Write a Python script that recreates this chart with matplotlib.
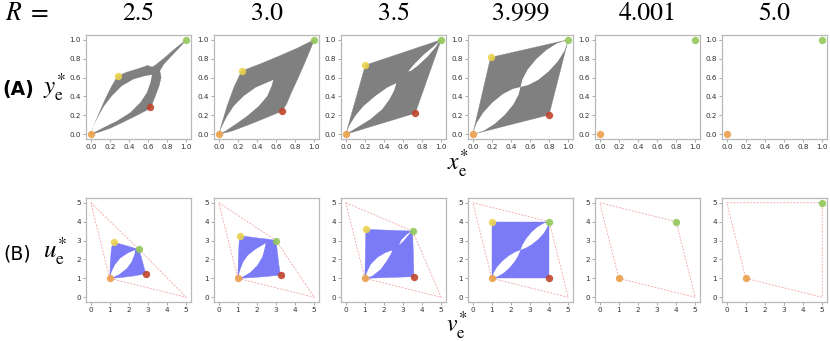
import matplotlib
matplotlib.use("Agg")
import matplotlib.pyplot as plt

plt.rcParams['mathtext.fontset'] = 'stix'

# ---------------- data ----------------
r_labels = ["2.5", "3.0", "3.5", "3.999", "4.001", "5.0"]

# row A: fixed points (x*, y*)
orange_a = (0.0, 0.0)
green_a = (1.0, 1.0)
yellow_a = [(0.28, 0.615), (0.239, 0.668), (0.205, 0.731), (0.187, 0.813), None, None]
red_a = [(0.617, 0.29), (0.66, 0.251), (0.728, 0.223), (0.799, 0.205), None, None]

# row B: fixed points (v*, u*)
orange_b = (1.0, 1.0)
green_b = [(2.53, 2.53), (3.0, 3.0), (3.5, 3.5), (4.0, 4.0), (4.0, 4.0), (5.0, 5.0)]
yellow_b = [(1.23, 2.9), (1.1, 3.26), (1.05, 3.59), (1.0, 4.0), None, None]
red_b = [(2.88, 1.24), (3.28, 1.18), (3.57, 1.09), (4.0, 1.0), None, None]

# corner points of the dashed bounding quadrilateral in row B
quad_top_left = (0.0, 5.0)
quad_bottom_right = (5.0, 0.0)

# row A region outlines (gray) and holes (white)
a25_outer = [(0, 0), (0.046, 0.124), (0.098, 0.247), (0.151, 0.371), (0.221, 0.512),
             (0.281, 0.615), (0.379, 0.657), (0.484, 0.689), (0.596, 0.728),
             (0.642, 0.710), (0.677, 0.731), (0.765, 0.802), (0.870, 0.894),
             (1.0, 1.0), (0.940, 0.929), (0.853, 0.837), (0.765, 0.742),
             (0.723, 0.671), (0.737, 0.601), (0.716, 0.512), (0.677, 0.406),
             (0.642, 0.318), (0.617, 0.272), (0.484, 0.201), (0.344, 0.131),
             (0.204, 0.064), (0.081, 0.021)]
a25_holes = [[(0, 0), (0.028, 0.088), (0.081, 0.194), (0.140, 0.300), (0.221, 0.406),
              (0.326, 0.512), (0.449, 0.583), (0.572, 0.618), (0.642, 0.629),
              (0.625, 0.548), (0.589, 0.442), (0.519, 0.336), (0.414, 0.230),
              (0.274, 0.141), (0.133, 0.071), (0.046, 0.025)]]

a30_outer = [(0, 0), (0.035, 0.124), (0.088, 0.300), (0.158, 0.495), (0.239, 0.668),
             (0.456, 0.753), (0.632, 0.827), (0.825, 0.912), (1.0, 1.0),
             (0.954, 0.883), (0.895, 0.742), (0.825, 0.583), (0.761, 0.442),
             (0.709, 0.318), (0.660, 0.244), (0.491, 0.173), (0.316, 0.102),
             (0.140, 0.035)]
a30_holes = [[(0, 0), (0.035, 0.088), (0.088, 0.194), (0.158, 0.300), (0.263, 0.406),
              (0.386, 0.495), (0.509, 0.548), (0.572, 0.576), (0.554, 0.512),
              (0.509, 0.406), (0.421, 0.300), (0.298, 0.194), (0.175, 0.106),
              (0.070, 0.035)]]

a35_outer = [(0, 0), (0.205, 0.731), (1.0, 1.0), (0.728, 0.223)]
a35_holes = [[(0, 0), (0.035, 0.088), (0.099, 0.194), (0.187, 0.300), (0.311, 0.406),
              (0.435, 0.495), (0.530, 0.541), (0.505, 0.459), (0.459, 0.371),
              (0.382, 0.265), (0.258, 0.159), (0.117, 0.071)],
             [(0.654, 0.664), (0.717, 0.742), (0.823, 0.848), (0.929, 0.936),
              (0.982, 0.986), (0.947, 0.929), (0.859, 0.823), (0.753, 0.724),
              (0.682, 0.671)]]

a4_outer = [(0, 0), (0.187, 0.813), (1.0, 1.0), (0.799, 0.205)]
a4_holes = [[(0, 0), (0.04, 0.12), (0.11, 0.23), (0.205, 0.335), (0.315, 0.425),
             (0.42, 0.48), (0.5, 0.5), (0.48, 0.42), (0.425, 0.315), (0.335, 0.205),
             (0.23, 0.11), (0.12, 0.04)],
            [(0.5, 0.5), (0.52, 0.58), (0.575, 0.685), (0.665, 0.795), (0.77, 0.89),
             (0.88, 0.96), (1.0, 1.0), (0.96, 0.88), (0.89, 0.77), (0.795, 0.665),
             (0.685, 0.575), (0.58, 0.52)]]

# row B region outlines (blue) and holes (white)
b25_outer = [(1, 1), (1.02, 1.86), (1.09, 2.65), (1.23, 2.90), (1.72, 2.77),
             (2.25, 2.61), (2.53, 2.53), (2.67, 2.03), (2.79, 1.59), (2.88, 1.24),
             (2.25, 1.13), (1.54, 1.04)]
b25_holes = [[(1, 1), (1.09, 1.35), (1.26, 1.71), (1.54, 2.06), (1.93, 2.33),
              (2.33, 2.50), (2.28, 2.24), (2.14, 1.88), (1.89, 1.53), (1.49, 1.21),
              (1.14, 1.04)]]

b30_outer = [(1, 1), (1.02, 1.9), (1.06, 2.8), (1.1, 3.26), (1.9, 3.15), (2.6, 3.07),
             (3.0, 3.0), (3.07, 2.4), (3.15, 1.7), (3.22, 1.25), (3.28, 1.18),
             (2.4, 1.09), (1.6, 1.03)]
b30_holes = [[(1, 1), (1.11, 1.42), (1.28, 1.87), (1.53, 2.22), (1.93, 2.54),
              (2.46, 2.86), (2.40, 2.57), (2.28, 2.13), (2.02, 1.69), (1.63, 1.30),
              (1.23, 1.07)]]

b35_outer = [(1, 1), (1.05, 3.59), (3.5, 3.5), (3.54, 2.3), (3.57, 1.09)]
b35_holes = [[(1, 1), (1.10, 1.30), (1.31, 1.74), (1.66, 2.10), (2.09, 2.36),
              (2.44, 2.48), (2.35, 2.27), (2.14, 1.92), (1.83, 1.48), (1.39, 1.13)],
             [(2.79, 2.76), (2.91, 3.03), (3.19, 3.31), (3.43, 3.49),
              (3.31, 3.33), (3.01, 2.96)]]

b4_outer = [(1, 1), (1, 4), (4, 4), (4, 1)]
b4_holes = [[(1, 1), (1.1, 1.3), (1.285, 1.615), (1.57, 1.93), (1.9, 2.2),
             (2.215, 2.385), (2.5, 2.5), (2.385, 2.215), (2.2, 1.9), (1.93, 1.57),
             (1.615, 1.285), (1.3, 1.1)],
            [(2.5, 2.5), (2.615, 2.785), (2.8, 3.1), (3.07, 3.43), (3.385, 3.715),
             (3.7, 3.9), (4.0, 4.0), (3.9, 3.7), (3.715, 3.385), (3.43, 3.07),
             (3.1, 2.8), (2.785, 2.615)]]

a_regions = [(a25_outer, a25_holes), (a30_outer, a30_holes), (a35_outer, a35_holes),
             (a4_outer, a4_holes), None, None]
b_regions = [(b25_outer, b25_holes), (b30_outer, b30_holes), (b35_outer, b35_holes),
             (b4_outer, b4_holes), None, None]

a_ticks = [0.0, 0.2, 0.4, 0.6, 0.8, 1.0]
a_ticklabels = ["0.0", "0.2", "0.4", "0.6", "0.8", "1.0"]
b_ticks = [0, 1, 2, 3, 4, 5]
b_ticklabels = ["0", "1", "2", "3", "4", "5"]

# ---------------- style ----------------
W, H = 830, 341
C_ORANGE = '#eaa04a'
C_YELLOW = '#ecd34e'
C_RED = '#c0432a'
C_GREEN = '#92c75a'
C_GRAY = '#808080'
C_BLUE = '#7b7bf8'
C_DASH = '#f3a8a8'

fig = plt.figure(figsize=(W / 100, H / 100), dpi=100)

lefts = [86, 214, 341, 468, 595, 722]
pw, ph = 105, 104
top_a, top_b = 35, 198


def make_ax(left, top):
    ax = fig.add_axes([left / W, 1 - (top + ph) / H, pw / W, ph / H])
    for s in ax.spines.values():
        s.set_color('#b8b8b8')
        s.set_linewidth(0.9)
    ax.tick_params(labelsize=5.2, length=2, width=0.5, color='#888888',
                   labelcolor='#333333', pad=1.5)
    return ax


def dot(ax, p, c):
    ax.scatter([p[0]], [p[1]], s=28, color=c, zorder=5, linewidths=0, alpha=0.9)


for i in range(6):
    # ----- row A -----
    ax = make_ax(lefts[i], top_a)
    reg = a_regions[i]
    if reg is not None:
        outer, holes = reg
        ax.fill([p[0] for p in outer], [p[1] for p in outer], color=C_GRAY, lw=0.3,
                ec=C_GRAY, zorder=1)
        for hole in holes:
            ax.fill([p[0] for p in hole], [p[1] for p in hole], color='white', lw=0,
                    zorder=2)
    dot(ax, orange_a, C_ORANGE)
    dot(ax, green_a, C_GREEN)
    if yellow_a[i] is not None:
        dot(ax, yellow_a[i], C_YELLOW)
    if red_a[i] is not None:
        dot(ax, red_a[i], C_RED)
    ax.set_xlim(-0.05, 1.05)
    ax.set_ylim(-0.05, 1.05)
    ax.set_xticks(a_ticks)
    ax.set_xticklabels(a_ticklabels)
    ax.set_yticks(a_ticks)
    ax.set_yticklabels(a_ticklabels)

    # ----- row B -----
    ax = make_ax(lefts[i], top_b)
    quad = [quad_top_left, green_b[i], quad_bottom_right, orange_b, quad_top_left]
    ax.plot([p[0] for p in quad], [p[1] for p in quad], color=C_DASH, lw=0.6,
            ls=(0, (2.5, 1.5)), zorder=3)
    reg = b_regions[i]
    if reg is not None:
        outer, holes = reg
        ax.fill([p[0] for p in outer], [p[1] for p in outer], color=C_BLUE, lw=0.3,
                ec=C_BLUE, zorder=1)
        for hole in holes:
            ax.fill([p[0] for p in hole], [p[1] for p in hole], color='white', lw=0,
                    zorder=2)
    dot(ax, orange_b, C_ORANGE)
    dot(ax, green_b[i], C_GREEN)
    if yellow_b[i] is not None:
        dot(ax, yellow_b[i], C_YELLOW)
    if red_b[i] is not None:
        dot(ax, red_b[i], C_RED)
    ax.set_xlim(-0.25, 5.25)
    ax.set_ylim(-0.25, 5.25)
    ax.set_xticks(b_ticks)
    ax.set_xticklabels(b_ticklabels)
    ax.set_yticks(b_ticks)
    ax.set_yticklabels(b_ticklabels)

    # column title
    fig.text((lefts[i] + pw / 2) / W, 1 - 20 / H, r_labels[i], ha='center',
             va='baseline', fontsize=18.5, family='STIXGeneral')


def fxy(x, y):
    return x / W, 1 - y / H


fig.text(*fxy(5, 20), r'$R\ =$', ha='left', va='baseline', fontsize=18.5)
fig.text(*fxy(2, 95), '(A)', ha='left', va='baseline', fontsize=13.5,
         fontweight='bold', family='DejaVu Sans')
fig.text(*fxy(43, 87), r'$y_{\mathrm{e}}^{*}$', ha='left', va='center', fontsize=18)
fig.text(*fxy(3, 259), '(B)', ha='left', va='baseline', fontsize=13.5,
         family='DejaVu Sans')
fig.text(*fxy(43, 251), r'$u_{\mathrm{e}}^{*}$', ha='left', va='center', fontsize=18)
fig.text(*fxy(458, 164), r'$x_{\mathrm{e}}^{*}$', ha='center', va='center', fontsize=17)
fig.text(*fxy(457, 326), r'$v_{\mathrm{e}}^{*}$', ha='center', va='center', fontsize=17)

fig.savefig('out.png', dpi=100)
